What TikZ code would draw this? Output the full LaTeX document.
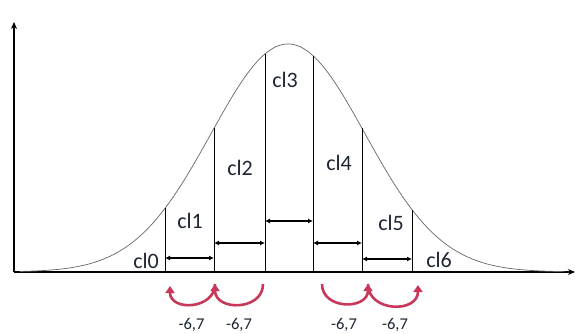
\documentclass[tikz,border=0pt]{standalone}
\usepackage{fontspec}
\setmainfont{Carlito}
\usetikzlibrary{arrows.meta}
\definecolor{arc}{HTML}{C8385A}
\definecolor{txt}{HTML}{1E2533}
\tikzset{
  axisline/.style={line width=1.1pt,-{Stealth[length=7pt,width=6pt]}},
  bound/.style={line width=0.9pt},
  gap/.style={line width=1.1pt,{Latex[length=5pt,width=5pt]}-{Latex[length=5pt,width=5pt]}},
  lbl/.style={anchor=base,inner sep=0pt,text=txt,font=\fontsize{22}{23}\selectfont},
  val/.style={anchor=base,inner sep=0pt,text=txt,font=\fontsize{16.5}{18}\selectfont},
  move/.style={draw=arc,line width=2.6pt,-{Triangle[length=7pt,width=9pt]}},
  declare function={g(\x)=272-228*exp(-0.5*((\x-288)/77)^2);}
}
\begin{document}
\begin{tikzpicture}[x=1pt,y=-1pt]
\useasboundingbox (0,0) rectangle (575,334);
% axes
\coordinate (o) at (14,272);
\coordinate (ytop) at (14,22);
\coordinate (xend) at (575,272);
\draw[axisline] (o) -- (ytop);
\draw[axisline] (o) -- (xend);
% curve
\draw[gray!80!black,line width=0.7pt,smooth,samples=120,domain=20:565] plot (\x,{g(\x)});
% boundaries
\foreach \n/\xx in {b1/165,b2/214,b3/265,b4/313,b5/362,b6/412}{
  \coordinate (\n) at (\xx,272);
  \coordinate (\n t) at (\xx,{g(\xx)});
  \draw[bound] (\n) -- (\n t);
}
% widths
\draw[gap] (165,258) coordinate (w1a) -- (214,258) coordinate (w1b);
\draw[gap] (214,243) coordinate (w2a) -- (265,243) coordinate (w2b);
\draw[gap] (265,221) coordinate (w3a) -- (313,221) coordinate (w3b);
\draw[gap] (313,243) coordinate (w4a) -- (362,243) coordinate (w4b);
\draw[gap] (362,259) coordinate (w5a) -- (412,259) coordinate (w5b);
% labels
\node[lbl] (c0) at (146,268) {cl0};
\node[lbl] (c1) at (190,228) {cl1};
\node[lbl] (c2) at (240,175) {cl2};
\node[lbl] (c3) at (285,88) {cl3};
\node[lbl] (c4) at (339,170) {cl4};
\node[lbl] (c5) at (391,230) {cl5};
\node[lbl] (c6) at (439,267) {cl6};
% moves
\coordinate (m1) at (170,286);
\coordinate (m2) at (215,284);
\coordinate (m3) at (263,284);
\coordinate (m4) at (322,284);
\coordinate (m5) at (368,284);
\coordinate (m6) at (418,285);
\draw[move] (m2) to[out=-90,in=-90,looseness=1.45] (m1);
\draw[move] (m3) to[out=-90,in=-90,looseness=1.45] (m2);
\draw[move] (m4) to[out=-90,in=-90,looseness=1.45] (m5);
\draw[move] (m5) to[out=-90,in=-90,looseness=1.45] (m6);
\node[val] (v1) at (191.5,329.5) {-6,7};
\node[val] (v2) at (239,329.5) {-6,7};
\node[val] (v3) at (344,329) {-6,7};
\node[val] (v4) at (395,329) {-6,7};
\end{tikzpicture}
\end{document}
